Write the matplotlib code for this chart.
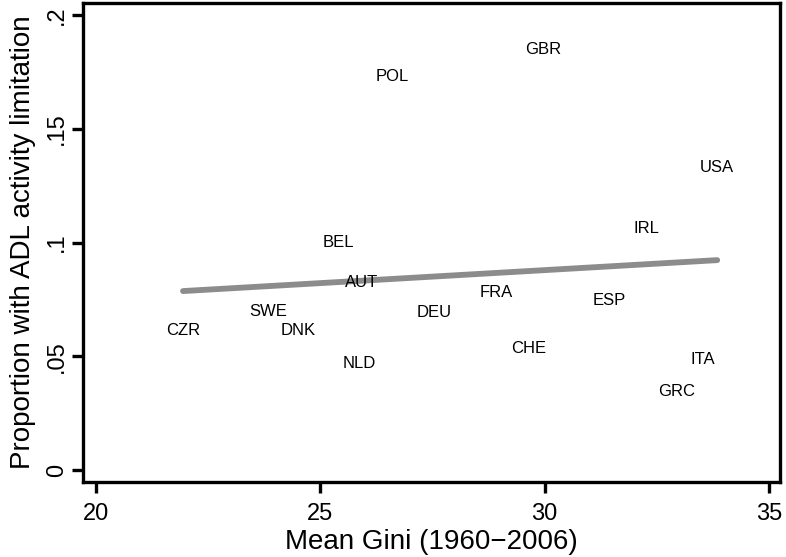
import numpy as np
import matplotlib
matplotlib.use("Agg")
import matplotlib.pyplot as plt

landen = ["CZR", "SWE", "DNK", "NLD", "AUT", "BEL", "POL", "GBR",
          "USA", "IRL", "DEU", "FRA", "ESP", "CHE", "ITA", "GRC"]
gini = [21.94, 23.85, 24.50, 25.88, 25.92, 25.41, 26.61, 29.96,
        33.85, 32.27, 27.53, 28.93, 31.45, 29.64, 33.54, 32.94]
adl = [0.0612, 0.0696, 0.0612, 0.0467, 0.0824, 0.1000, 0.1731, 0.1850,
       0.1330, 0.1062, 0.0692, 0.0780, 0.0744, 0.0533, 0.0485, 0.0344]

x_ticks = [20, 25, 30, 35]
x_labels = ["20", "25", "30", "35"]
y_ticks = [0, 0.05, 0.1, 0.15, 0.2]
y_labels = ["0", ".05", ".1", ".15", ".2"]

plt.rcParams["font.family"] = ["Liberation Sans", "DejaVu Sans"]

fig = plt.figure(figsize=(7.86, 5.57), dpi=100)
ax = fig.add_axes([83 / 786, 75 / 557, 697 / 786, 479 / 557])

# lineaire fit zoals in Stata (lfit)
a, b = np.polyfit(gini, adl, 1)
xf = np.array([min(gini), max(gini)])
ax.plot(xf, a * xf + b, color="#8c8c8c", linewidth=4.2, solid_capstyle="round", zorder=1)

for land, x, y in zip(landen, gini, adl):
    ax.text(x, y, land, fontsize=12, ha="center", va="center", zorder=2)

ax.set_xlim(19.71, 35.25)
ax.set_ylim(-0.0053, 0.2053)
ax.set_xticks(x_ticks)
ax.set_xticklabels(x_labels, fontsize=17)
ax.set_yticks(y_ticks)
ax.set_yticklabels(y_labels, fontsize=17, rotation=90, va="center")
ax.tick_params(axis="both", direction="out", length=8, width=2.4)
ax.tick_params(axis="x", pad=7)
ax.tick_params(axis="y", pad=3)

for s in ax.spines.values():
    s.set_linewidth(2.4)

ax.set_xlabel("Mean Gini (1960\u22122006)", fontsize=20, labelpad=3)
ax.set_ylabel("Proportion with ADL activity limitation", fontsize=20, labelpad=7)

fig.savefig("out.png", dpi=100)
